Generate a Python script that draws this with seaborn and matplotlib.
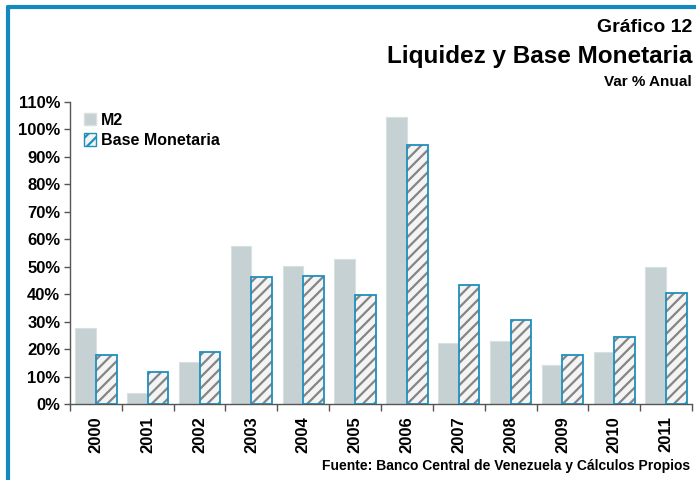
import pandas as pd
import matplotlib.pyplot as plt
import matplotlib.patches as mpatches
import matplotlib.ticker as mticker
import matplotlib.lines as mlines
import numpy as np
import seaborn as sns

# data (var % anual)
years = ['2000', '2001', '2002', '2003', '2004', '2005',
         '2006', '2007', '2008', '2009', '2010', '2011']
m2 = [27.8, 4.1, 15.2, 57.7, 50.4, 52.8, 104.5, 22.3, 23.1, 14.2, 19.0, 50.0]
base_monetaria = [17.8, 11.7, 18.9, 46.4, 46.6, 39.7, 94.2, 43.2, 30.5, 17.9, 24.3, 40.4]

df = pd.DataFrame({'year': years * 2,
                   'value': m2 + base_monetaria,
                   'serie': ['M2'] * len(years) + ['Base Monetaria'] * len(years)})

sns.set_style('white')
plt.rcParams['font.family'] = ['Liberation Sans', 'DejaVu Sans']
plt.rcParams['font.weight'] = 'bold'
plt.rcParams['text.color'] = 'black'
plt.rcParams['xtick.color'] = 'black'
plt.rcParams['ytick.color'] = 'black'
plt.rcParams['hatch.linewidth'] = 1.6

blue = '#1E90BE'
m2_col = '#C5D1D3'
hatch_col = '#858585'

fig = plt.figure(figsize=(6.96, 4.80), dpi=100)
ax = fig.add_axes([70 / 696, 1 - 404 / 480, 622 / 696, 302 / 480])

sns.barplot(data=df, x='year', y='value', hue='serie', ax=ax,
            palette={'M2': m2_col, 'Base Monetaria': 'white'},
            width=0.8, gap=0, saturation=1, legend=False)

# M2 bars: light edge
for p in ax.containers[0]:
    p.set_edgecolor('#DADFE0')
    p.set_linewidth(0.8)

# Base Monetaria: grey hatch, then a blue outline on top
for p in ax.containers[1]:
    p.set_facecolor('#F4F4F4')
    p.set_edgecolor(hatch_col)
    p.set_hatch('///')
    p.set_linewidth(0)
    ax.add_patch(mpatches.Rectangle(p.get_xy(), p.get_width(), p.get_height(),
                                    fill=False, edgecolor=blue, linewidth=1.3, zorder=3))

ax.set_ylim(0, 110)
ax.set_xlim(-0.5, len(years) - 0.5)
ax.yaxis.set_major_locator(mticker.MultipleLocator(10))
ax.yaxis.set_major_formatter(mticker.FuncFormatter(lambda v, pos: f'{v:.0f}%'))
ax.set_xlabel('')
ax.set_ylabel('')

for s in ['top', 'right']:
    ax.spines[s].set_visible(False)
for s in ['left', 'bottom']:
    ax.spines[s].set_color('#555555')
    ax.spines[s].set_linewidth(1.0)

ax.tick_params(axis='y', which='major', left=True, length=4, width=1, color='#555555',
               labelsize=12, pad=3)
ax.set_xticks(range(len(years)))
ax.set_xticklabels(years, rotation=90, fontsize=12, fontweight='bold')
ax.tick_params(axis='x', which='major', length=0, pad=9)
ax.set_xticks(np.arange(-0.5, len(years), 1), minor=True)
ax.tick_params(axis='x', which='minor', bottom=True, length=5, width=1, color='#555555')
for lab in ax.get_yticklabels():
    lab.set_fontweight('bold')

# legend
handles = [mpatches.Patch(facecolor=m2_col, edgecolor='#DADFE0', label='M2'),
           mpatches.Patch(facecolor='#F4F4F4', edgecolor=blue, hatch='///', label='Base Monetaria')]
leg = ax.legend(handles=handles, loc='upper left', bbox_to_anchor=(0.0, 1.01),
                frameon=False, fontsize=11.5, handlelength=0.8, handleheight=0.8,
                handletextpad=0.3, labelspacing=0.35, borderaxespad=0.45)
for t in leg.get_texts():
    t.set_fontweight('bold')

# titles
fig.text(692 / 696, 1 - 28 / 480, 'Gráfico 12', ha='right', va='center', fontsize=14, fontweight='bold')
fig.text(692 / 696, 1 - 57 / 480, 'Liquidez y Base Monetaria', ha='right', va='center',
         fontsize=17.5, fontweight='bold')
fig.text(692 / 696, 1 - 82 / 480, 'Var % Anual', ha='right', va='center', fontsize=11, fontweight='bold')
fig.text(690 / 696, 1 - 466 / 480, 'Fuente: Banco Central de Venezuela y Cálculos Propios',
         ha='right', va='center', fontsize=10, fontweight='bold')

# blue frame lines (top and left)
fig.add_artist(mlines.Line2D([8 / 696, 1], [1 - 7 / 480, 1 - 7 / 480], color='#1589BD', linewidth=3))
fig.add_artist(mlines.Line2D([8 / 696, 8 / 696], [0, 1 - 7 / 480], color='#1589BD', linewidth=3))

fig.savefig('out.png', dpi=100)
